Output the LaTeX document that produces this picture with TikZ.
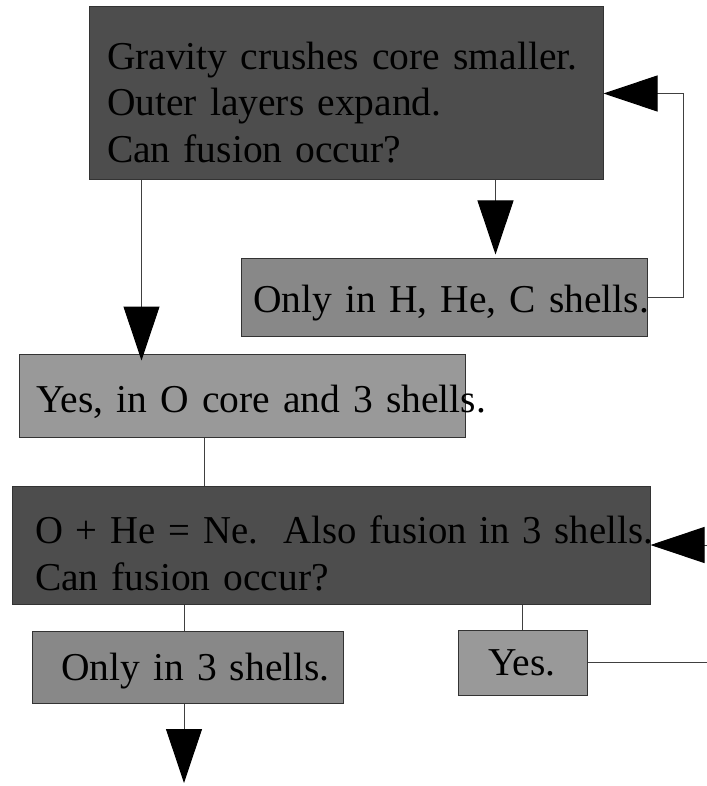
\documentclass[tikz,border=0pt]{standalone}
\usepackage{graphicx}
\usepackage{fontspec}
\setmainfont{Liberation Serif}
\usetikzlibrary{arrows.meta,positioning,calc}
\definecolor{darkfill}{HTML}{4D4D4D}
\definecolor{midfill}{HTML}{888888}
\definecolor{lightfill}{HTML}{999999}

\begin{document}
\begin{tikzpicture}[x=1pt,y=-1pt,
	stage/.style={draw=black!80, line width=1pt, inner ysep=0pt, align=left,
		font=\fontsize{39.5}{46.5}\selectfont},
	darkstage/.style={stage, fill=darkfill},
	midstage/.style={stage, fill=midfill},
	lightstage/.style={stage, fill=lightfill},
	lower/.style={execute at begin node={\rule{0pt}{#1}}},
	link/.style={draw=black!75, line width=1pt},
	arr/.style={link, -{Triangle[length=54pt,width=36pt,black]}}]
	\useasboundingbox (0,0) rectangle (706,786);
	
	% boxes
	\node[darkstage, lower=45pt, minimum width=514pt, minimum height=173pt, inner xsep=18pt, text width=478pt] (gravity) at (346,93.5)
		{\mbox{Gravity crushes core smaller.}\\\mbox{Outer layers expand.}\\\mbox{Can fusion occur?}};
	\node[midstage, lower=39pt, minimum width=406pt, minimum height=78pt, inner xsep=12pt, text width=382pt] (hshells) at (444,297)
		{\mbox{Only in H, He, C shells.}};
	\node[lightstage, lower=41pt, minimum width=446pt, minimum height=83pt, inner xsep=17pt, text width=412pt] (ocore) at (242,395.5)
		{\mbox{Yes, in O core and 3 shells.}};
	\node[darkstage, lower=45pt, minimum width=638pt, minimum height=118pt, inner xsep=23pt, text width=592pt] (neon) at (331,545)
		{\scalebox{0.98}[1]{O + He = Ne.\ \ Also fusion in 3 shells.}\\\mbox{Can fusion occur?}};
	\node[midstage, lower=35pt, minimum width=311pt, minimum height=72pt, inner xsep=29pt, text width=253pt] (threeshells) at (187.5,667)
		{\mbox{Only in 3 shells.}};
	\node[lightstage, minimum width=129pt, minimum height=65pt, inner xsep=30pt, text width=69pt] (yes) at (522.5,662.5)
		{\mbox{Yes.}};
	\coordinate (next) at (184,783);
	
	% connectors
	\draw[arr] ([xshift=53pt]gravity.south west) -- ([xshift=123pt,yshift=-7pt]ocore.north west);
	\draw[arr] ([xshift=407pt]gravity.south west) -- ([xshift=255pt,yshift=3pt]hshells.north west);
	\draw[arr] (hshells.east) -| ([xshift=80pt]gravity.east) -- (gravity.east);
	\draw[link] ([xshift=186pt]ocore.south west) -- ([xshift=186pt]ocore.south west |- neon.north);
	\draw[link] (neon.south -| next) -- (threeshells.north -| next);
	\draw[arr] (threeshells.south -| next) -- (next);
	\draw[link] (neon.south -| yes.north) -- (yes.north);
	\draw[arr] (yes.east) -| ([xshift=80pt]neon.east) -- (neon.east);
\end{tikzpicture}
\end{document}
